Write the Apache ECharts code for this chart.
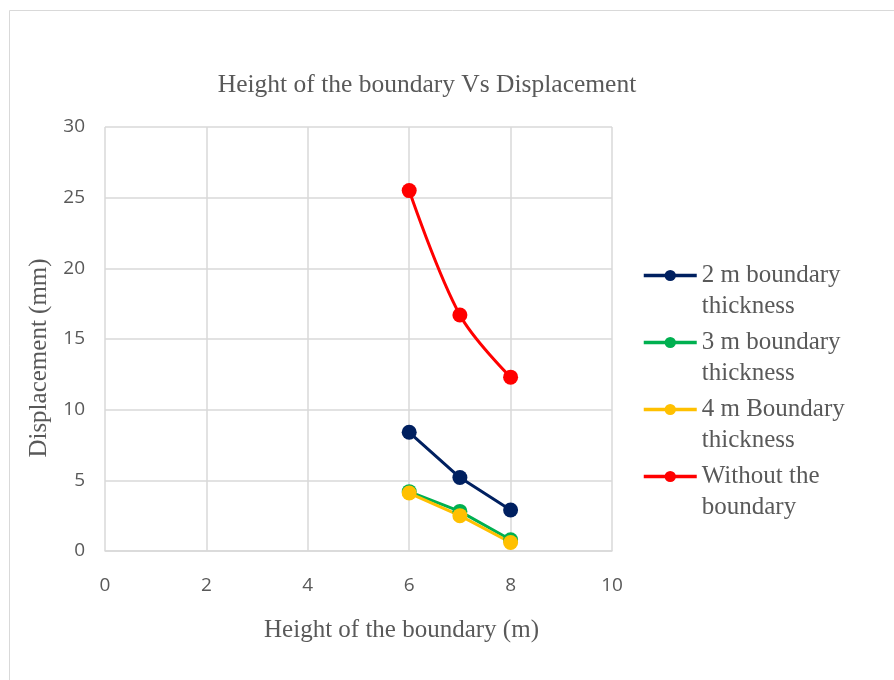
<!DOCTYPE html>
<html><head><meta charset="utf-8">
<script src="https://cdn.jsdelivr.net/npm/echarts@6/dist/echarts.min.js"></script>
<style>html,body{margin:0;padding:0;background:#fff}#c{width:894px;height:680px}</style>
</head><body><div id="c"></div>
<script>
const heights = [6, 7, 8];
const seriesNames = ['2 m boundary thickness', '3 m boundary thickness', '4 m Boundary thickness', 'Without the boundary'];
const disp2m = [8.4, 5.2, 2.9];
const disp3m = [4.2, 2.8, 0.8];
const disp4m = [4.1, 2.5, 0.6];
const dispNone = [25.5, 16.7, 12.3];
const xTicks = [0, 2, 4, 6, 8, 10];
const yTicks = [0, 5, 10, 15, 20, 25, 30];

const colors = ['#002060', '#00b050', '#ffc000', '#ff0000'];
const allData = [disp2m, disp3m, disp4m, dispNone];
const font = '"Liberation Serif", "Times New Roman", serif';
const sans = '"Open Sans", "Liberation Sans", sans-serif';
const txt = '#595959';

const chart = echarts.init(document.getElementById('c'));
chart.setOption({
  animation: false,
  textStyle: {fontFamily: font},
  graphic: [{type: 'rect', shape: {x: 9.5, y: 10.5, width: 900, height: 700}, style: {fill: 'none', stroke: '#d9d9d9', lineWidth: 1}}],
  title: {text: 'Height of the boundary Vs Displacement', left: 422, textAlign: 'center', top: 67,
    textStyle: {fontFamily: font, fontSize: 25.5, fontWeight: 'normal', color: txt}},
  grid: {left: 105, right: 282, top: 127, bottom: 129},
  legend: {
    orient: 'vertical', left: 637, top: 224, itemGap: -26, itemWidth: 53, itemHeight: 14,
    data: seriesNames,
    lineStyle: {width: 3.5},
    formatter: n => { const i = n.lastIndexOf(' '); return '\n' + n.slice(0, i) + '\n' + n.slice(i + 1); },
    textStyle: {fontFamily: font, fontSize: 25, color: txt, lineHeight: 31}
  },
  xAxis: {type: 'value', min: 0, max: 10, interval: 2,
    name: 'Height of the boundary (m)', nameLocation: 'middle', nameGap: 67,
    nameTextStyle: {fontFamily: font, fontSize: 25, color: txt, padding: [0, 0, 0, 86]},
    axisLine: {lineStyle: {color: '#d9d9d9', width: 1.5}}, axisTick: {show: false},
    axisLabel: {fontFamily: sans, fontSize: 19, color: txt, margin: 25, formatter: v => String(v)},
    splitLine: {lineStyle: {color: '#d9d9d9', width: 1.5}}},
  yAxis: {type: 'value', min: 0, max: 30, interval: 5,
    name: 'Displacement (mm)', nameLocation: 'middle', nameGap: 51,
    nameTextStyle: {fontFamily: font, fontSize: 25, color: txt, padding: [0, 38, 0, 0]},
    axisLine: {show: false}, axisTick: {show: false},
    axisLabel: {fontFamily: sans, fontSize: 19, color: txt, margin: 20, formatter: v => String(v)},
    splitLine: {lineStyle: {color: '#d9d9d9', width: 1.5}}},
  series: seriesNames.map((n, i) => ({
    name: n, type: 'line', smooth: i === 3 ? 0.35 : false,
    data: heights.map((h, j) => [h, allData[i][j]]),
    symbol: 'circle', symbolSize: 15,
    lineStyle: {color: colors[i], width: 3}, itemStyle: {color: colors[i]}
  }))
});
</script></body></html>
